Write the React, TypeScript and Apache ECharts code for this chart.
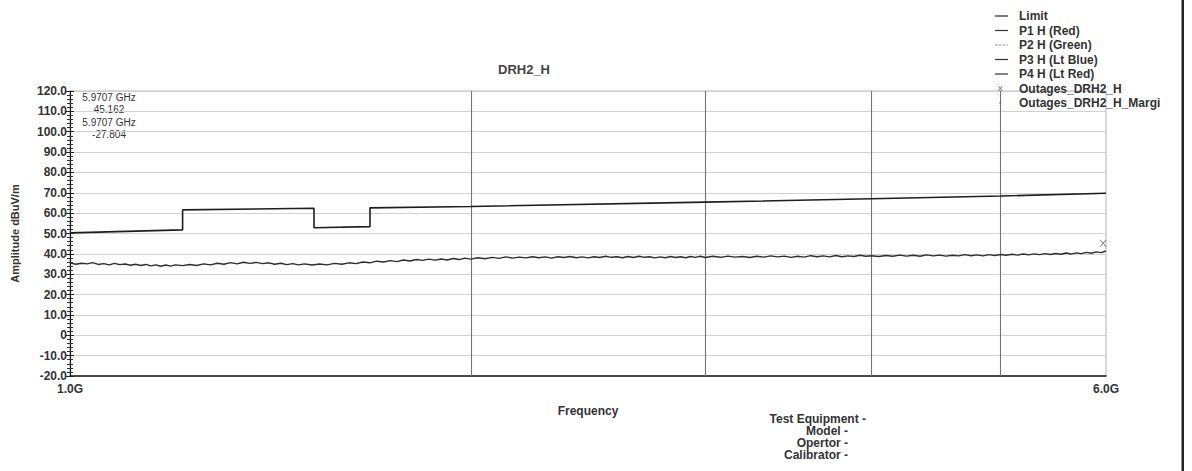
import React, { useEffect, useRef } from 'react';
import * as echarts from 'echarts';

const FONT = '"Liberation Sans", Arial, sans-serif';

const CHART_TITLE = 'DRH2_H';
const Y_AXIS_NAME = 'Amplitude dBuV/m';
const X_AXIS_NAME = 'Frequency';
const Y_MIN = -20;
const Y_MAX = 120;
const Y_STEP = 10;
const X_MIN_GHZ = 1.0;
const X_MAX_GHZ = 6.0;
const X_GRID_GHZ = [2, 3, 4, 5];

const SERIES_NAMES = [
  'Limit',
  'P1 H (Red)',
  'P2 H (Green)',
  'P3 H (Lt Blue)',
  'P4 H (Lt Red)',
  'Outages_DRH2_H',
  'Outages_DRH2_H_Margi',
];

// Limit line [GHz, dBuV/m]
const LIMIT_LINE: [number, number][] = [
  [1.0, 50.3], [1.215, 51.8], [1.215, 61.6], [1.525, 62.4], [1.525, 52.8],
  [1.68, 53.4], [1.68, 62.6], [2.0, 63.3], [3.0, 65.4], [4.0, 67.1],
  [5.0, 68.4], [6.0, 69.8],
];

// Measured trace P1 H [GHz, dBuV/m]
const TRACE_P1H: [number, number][] = [
  [1.00, 35.6], [1.01, 34.9], [1.02, 35.4], [1.03, 35.1], [1.04, 35.7], [1.05, 34.8], [1.06, 35.2],
  [1.07, 34.6], [1.08, 35.3], [1.09, 34.7], [1.10, 35.0], [1.11, 34.4], [1.12, 34.9], [1.13, 34.3],
  [1.14, 34.8], [1.15, 34.1], [1.16, 34.6], [1.17, 33.9], [1.18, 34.5], [1.19, 34.0], [1.20, 34.6],
  [1.215, 34.2], [1.23, 34.8], [1.245, 34.3], [1.26, 35.1], [1.275, 34.6], [1.29, 35.4], [1.305, 34.9],
  [1.32, 35.7], [1.335, 35.1], [1.35, 35.9], [1.365, 35.3], [1.38, 35.8], [1.395, 35.2], [1.41, 35.6],
  [1.425, 34.9], [1.44, 35.4], [1.455, 34.7], [1.47, 35.2], [1.485, 34.6], [1.50, 35.1],
  [1.52, 34.5], [1.54, 35.0], [1.56, 34.6], [1.58, 35.3], [1.60, 34.9], [1.62, 35.6], [1.64, 35.2],
  [1.66, 36.0], [1.68, 35.6], [1.70, 36.4], [1.72, 36.0], [1.74, 36.7], [1.76, 36.2], [1.78, 37.0],
  [1.80, 36.5], [1.82, 37.2], [1.84, 36.8], [1.86, 37.4], [1.88, 36.9], [1.90, 37.5], [1.92, 37.0],
  [1.94, 37.7], [1.96, 37.2], [1.98, 37.9], [2.00, 37.4],
  [2.025, 38.1], [2.05, 37.6], [2.075, 38.3], [2.10, 37.8], [2.125, 38.5], [2.15, 37.9], [2.175, 38.4],
  [2.20, 38.0], [2.225, 38.6], [2.25, 38.1], [2.275, 38.5], [2.30, 37.9], [2.325, 38.6], [2.35, 38.2],
  [2.375, 38.7], [2.40, 38.1], [2.425, 38.5], [2.45, 38.0], [2.475, 38.6], [2.50, 38.2], [2.525, 38.8],
  [2.55, 38.3], [2.575, 38.6], [2.60, 38.1], [2.625, 38.7], [2.65, 38.2], [2.675, 38.8], [2.70, 38.3],
  [2.725, 38.6], [2.75, 38.0], [2.775, 38.5], [2.80, 38.1], [2.825, 38.7], [2.85, 38.2], [2.875, 38.6],
  [2.90, 38.1], [2.925, 38.7], [2.95, 38.3], [2.975, 38.8], [3.00, 38.2],
  [3.04, 38.8], [3.08, 38.3], [3.12, 38.9], [3.16, 38.4], [3.20, 38.7], [3.24, 38.2], [3.28, 38.8],
  [3.32, 38.4], [3.36, 39.0], [3.40, 38.5], [3.44, 38.9], [3.48, 38.3], [3.52, 38.8], [3.56, 38.4],
  [3.60, 39.1], [3.64, 38.6], [3.68, 39.0], [3.72, 38.5], [3.76, 39.2], [3.80, 38.6], [3.84, 39.0],
  [3.88, 38.7], [3.92, 39.3], [3.96, 38.8], [4.00, 39.1],
  [4.05, 38.7], [4.10, 39.2], [4.15, 38.8], [4.20, 39.4], [4.25, 38.9], [4.30, 39.3], [4.35, 38.8],
  [4.40, 39.5], [4.45, 39.0], [4.50, 39.4], [4.55, 38.9], [4.60, 39.3], [4.65, 39.0], [4.70, 39.6],
  [4.75, 39.1], [4.80, 39.5], [4.85, 39.0], [4.90, 39.6], [4.95, 39.2], [5.00, 39.7],
  [5.05, 39.3], [5.10, 39.8], [5.15, 39.4], [5.20, 39.9], [5.25, 39.5], [5.30, 40.0], [5.35, 39.6],
  [5.40, 40.1], [5.45, 39.7], [5.50, 40.2], [5.55, 39.8], [5.60, 40.4], [5.65, 39.9], [5.70, 40.5],
  [5.75, 40.1], [5.80, 40.7], [5.85, 40.3], [5.90, 41.0], [5.95, 40.6], [6.00, 41.4],
];

const OUTAGES: [number, number][] = [[5.9707, 45.162]];
const OUTAGE_MARGIN: [number, number][] = [[5.9707, -27.804]];

const MARKER_TEXT = ['5.9707 GHz', '45.162', '5.9707 GHz', '-27.804'];
const FOOTER_TEXT = ['Test Equipment -', 'Model -', 'Opertor -', 'Calibrator -'];

const LINE_ICON = 'path://M0,0 M26,10 M7,4.4 L20,4.4 L20,5.6 L7,5.6 Z';
const DASH_ICON =
  'path://M0,0 M26,10 M7,4.5 L9.5,4.5 L9.5,5.5 L7,5.5 Z M11,4.5 L13.5,4.5 L13.5,5.5 L11,5.5 Z M15,4.5 L17.5,4.5 L17.5,5.5 L15,5.5 Z M19,4.5 L20,4.5 L20,5.5 L19,5.5 Z';
const X_ICON =
  'path://M0,0 M26,10 M10,2.8 L11,2.8 L14.5,7.2 L13.5,7.2 Z M13.5,2.8 L14.5,2.8 L11,7.2 L10,7.2 Z';
const DOT_ICON = 'path://M0,0 M26,10 M11.5,4.2 L13,4.2 L13,5.7 L11.5,5.7 Z';
const X_SYMBOL = 'path://M0,0 L1,0 L8,8 L7,8 Z M7,0 L8,0 L1,8 L0,8 Z';

export default function App() {
  const ref = useRef<HTMLDivElement>(null);

  useEffect(() => {
    if (!ref.current) return;
    const chart = echarts.init(ref.current, undefined, { renderer: 'svg' });
    const legendIcons = [LINE_ICON, LINE_ICON, DASH_ICON, LINE_ICON, LINE_ICON, X_ICON, DOT_ICON];
    const legendColors = ['#222', '#333', '#888', '#333', '#333', '#444', '#444'];

    const option: any = {
      animation: false,
      backgroundColor: '#ffffff',
      title: {
        text: CHART_TITLE,
        left: 498,
        top: 63,
        padding: 0,
        textStyle: { fontSize: 13, fontWeight: 'bold', color: '#444', fontFamily: FONT },
      },
      legend: {
        orient: 'vertical',
        left: 988,
        top: 10,
        padding: 0,
        itemWidth: 26,
        itemHeight: 10,
        itemGap: 2.5,
        selectedMode: false,
        textStyle: { fontSize: 12, fontWeight: 'bold', color: '#333', fontFamily: FONT, padding: 0 },
        data: SERIES_NAMES.map((n, i) => ({
          name: n,
          icon: legendIcons[i],
          itemStyle: { color: legendColors[i], borderWidth: 0 },
        })),
      },
      grid: {
        left: 70,
        right: 86,
        top: 91,
        bottom: 95,
        show: true,
        borderColor: '#b5b5b5',
        borderWidth: 1,
        backgroundColor: 'transparent',
      },
      xAxis: {
        type: 'log',
        logBase: 10,
        min: X_MIN_GHZ,
        max: X_MAX_GHZ,
        name: X_AXIS_NAME,
        nameLocation: 'middle',
        nameGap: 29,
        nameTextStyle: { fontSize: 12, fontWeight: 'bold', color: '#333', fontFamily: FONT },
        axisLine: { show: true, onZero: false, lineStyle: { color: '#1a1a1a', width: 1.5 } },
        axisTick: { show: false },
        splitLine: { show: false },
        axisLabel: {
          show: true,
          margin: 7,
          showMinLabel: true,
          showMaxLabel: true,
          fontSize: 12,
          fontWeight: 'bold',
          color: '#333',
          fontFamily: FONT,
          formatter: (v: number) =>
            Math.abs(v - X_MIN_GHZ) < 1e-6 || Math.abs(v - X_MAX_GHZ) < 1e-6 ? v.toFixed(1) + 'G' : '',
        },
      },
      yAxis: [
        {
          type: 'value',
          min: Y_MIN,
          max: Y_MAX,
          interval: Y_STEP,
          name: Y_AXIS_NAME,
          nameLocation: 'middle',
          nameRotate: 90,
          nameGap: 50,
          nameTextStyle: { fontSize: 11, fontWeight: 'bold', color: '#333', fontFamily: FONT },
          axisLine: { show: true, onZero: false, lineStyle: { color: '#1a1a1a', width: 1.2 } },
          axisTick: { show: true, length: 4, lineStyle: { color: '#222' } },
          minorTick: { show: true, splitNumber: 5, length: 3, lineStyle: { color: '#333' } },
          splitLine: { show: true, lineStyle: { color: '#d2d2d2', width: 1 } },
          axisLabel: {
            margin: 3,
            fontSize: 12,
            fontWeight: 'bold',
            color: '#333',
            fontFamily: FONT,
            formatter: (v: number) => (v === 0 ? '0' : v.toFixed(1)),
          },
        },
        {
          type: 'value',
          min: Y_MIN,
          max: Y_MAX,
          interval: Y_STEP,
          position: 'left',
          axisLine: { show: false, onZero: false },
          axisTick: { show: true, inside: true, length: 4, lineStyle: { color: '#222' } },
          minorTick: { show: true, splitNumber: 5, length: 3, lineStyle: { color: '#333' } },
          splitLine: { show: false },
          axisLabel: { show: false },
        },
      ],
      series: [
        {
          name: SERIES_NAMES[0],
          type: 'line',
          data: LIMIT_LINE,
          showSymbol: false,
          symbol: 'none',
          lineStyle: { color: '#1e1e1e', width: 1.6 },
          itemStyle: { color: '#1e1e1e' },
          z: 4,
          markLine: {
            silent: true,
            symbol: 'none',
            label: { show: false },
            lineStyle: { color: '#757575', width: 1.1, type: 'solid' },
            data: X_GRID_GHZ.map((f) => [{ coord: [f, Y_MIN] }, { coord: [f, Y_MAX] }]),
            z: 1,
          },
        },
        {
          name: SERIES_NAMES[1],
          type: 'line',
          data: TRACE_P1H,
          showSymbol: false,
          symbol: 'none',
          lineStyle: { color: '#2e2e2e', width: 1.4 },
          itemStyle: { color: '#333' },
          z: 3,
        },
        { name: SERIES_NAMES[2], type: 'line', data: [], symbol: 'none', itemStyle: { color: '#888' } },
        { name: SERIES_NAMES[3], type: 'line', data: [], symbol: 'none', itemStyle: { color: '#333' } },
        { name: SERIES_NAMES[4], type: 'line', data: [], symbol: 'none', itemStyle: { color: '#333' } },
        {
          name: SERIES_NAMES[5],
          type: 'scatter',
          data: OUTAGES,
          symbol: X_SYMBOL,
          symbolSize: 7,
          itemStyle: { color: '#333' },
          z: 5,
        },
        {
          name: SERIES_NAMES[6],
          type: 'scatter',
          data: OUTAGE_MARGIN,
          symbol: 'rect',
          symbolSize: 2,
          clip: true,
          itemStyle: { color: '#444' },
        },
      ],
      graphic: [
        ...MARKER_TEXT.map((t, i) => ({
          type: 'text',
          x: 109,
          y: [97, 109, 122, 134][i],
          silent: true,
          style: {
            text: t,
            fill: '#333',
            font: `10px ${FONT}`,
            align: 'center',
            verticalAlign: 'middle',
          },
        })),
        ...FOOTER_TEXT.map((t, i) => ({
          type: 'text',
          x: i === 0 ? 866 : 848,
          y: [419, 431, 443, 455][i],
          silent: true,
          style: {
            text: t,
            fill: '#333',
            font: `bold 12px ${FONT}`,
            align: 'right',
            verticalAlign: 'middle',
          },
        })),
        {
          type: 'rect',
          silent: true,
          shape: { x: 1181.5, y: 0, width: 2.5, height: 471 },
          style: { fill: '#222' },
        },
      ],
    };

    chart.setOption(option);
    return () => chart.dispose();
  }, []);

  return (
    <div
      ref={ref}
      style={{ position: 'fixed', left: 0, top: 0, width: 1192, height: 471, background: '#fff' }}
    />
  );
}
